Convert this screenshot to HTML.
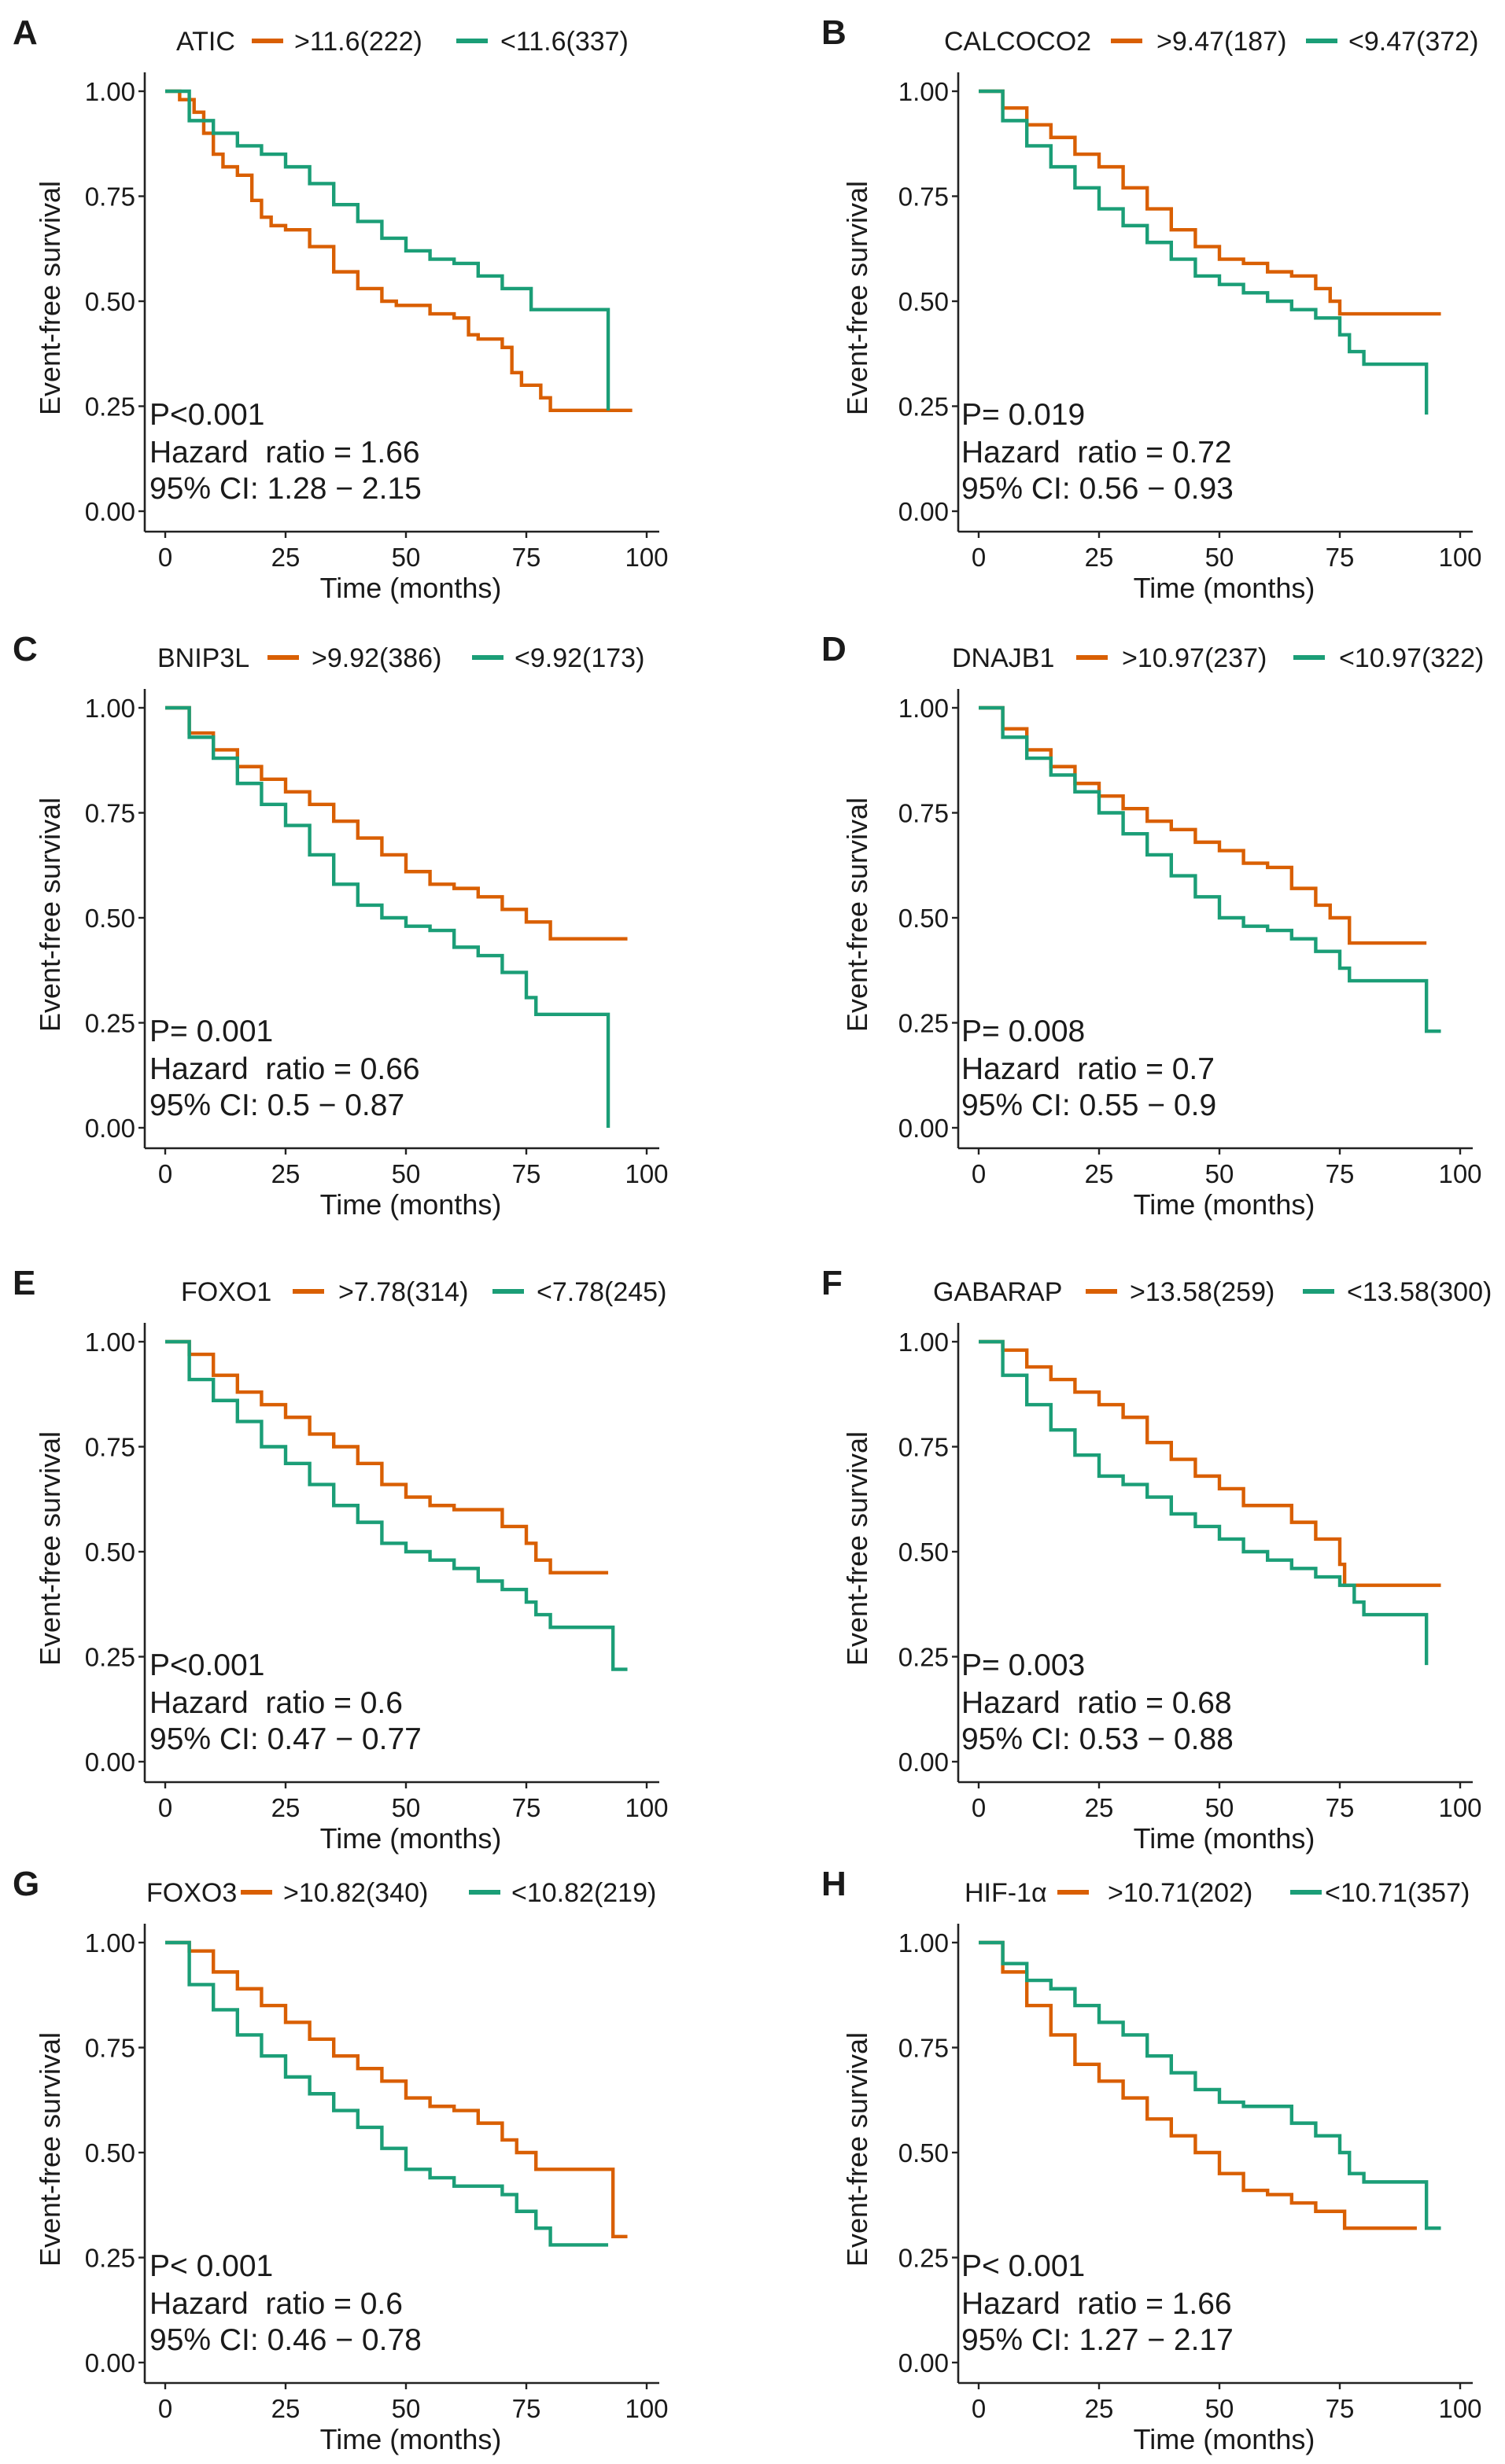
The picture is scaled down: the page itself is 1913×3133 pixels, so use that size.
<!DOCTYPE html>
<html><head><meta charset="utf-8"><style>
html,body{margin:0;padding:0;background:#fff}
svg{display:block}
text{font-family:"Liberation Sans",Arial,sans-serif;fill:#1a1a1a}
</style></head>
<body>
<svg id="fig" width="1913" height="3133" viewBox="0 0 956.5 1566.5" xmlns="http://www.w3.org/2000/svg"></svg>
<script>
const ORANGE="#D95F02", GREEN="#1B9E77";
const xTicks=[0,25,50,75,100];
const yTicks=[0,0.25,0.5,0.75,1];
const yTickLabels=["0.00","0.25","0.50","0.75","1.00"];
const panelLetters=["A","B","C","D","E","F","G","H"];
const genes=["ATIC","CALCOCO2","BNIP3L","DNAJB1","FOXO1","GABARAP","FOXO3","HIF-1α"];
const hiLabels=[">11.6(222)",">9.47(187)",">9.92(386)",">10.97(237)",">7.78(314)",">13.58(259)",">10.82(340)",">10.71(202)"];
const loLabels=["<11.6(337)","<9.47(372)","<9.92(173)","<10.97(322)","<7.78(245)","<13.58(300)","<10.82(219)","<10.71(357)"];
const pTexts=["P<0.001","P= 0.019","P= 0.001","P= 0.008","P<0.001","P= 0.003","P< 0.001","P< 0.001"];
const hrTexts=["Hazard  ratio = 1.66","Hazard  ratio = 0.72","Hazard  ratio = 0.66","Hazard  ratio = 0.7","Hazard  ratio = 0.6","Hazard  ratio = 0.68","Hazard  ratio = 0.6","Hazard  ratio = 1.66"];
const ciTexts=["95% CI: 1.28 − 2.15","95% CI: 0.56 − 0.93","95% CI: 0.5 − 0.87","95% CI: 0.55 − 0.9","95% CI: 0.47 − 0.77","95% CI: 0.53 − 0.88","95% CI: 0.46 − 0.78","95% CI: 1.27 − 2.17"];

const aTo=[0,3,6,8,10,12,15,18,20,22,25,30,35,40,45,48,55,60,63,65,70,72,74,76,78,80,97];
const aSo=[1,.98,.95,.9,.85,.82,.8,.74,.7,.68,.67,.63,.57,.53,.5,.49,.47,.46,.42,.41,.39,.33,.3,.3,.27,.24,.24];
const aTg=[0,5,10,15,20,25,30,35,40,45,50,55,60,65,70,72,76,92,92];
const aSg=[1,.93,.9,.87,.85,.82,.78,.73,.69,.65,.62,.6,.59,.56,.53,.53,.48,.48,.24];
const bTo=[0,5,10,15,20,25,30,35,40,45,50,55,60,65,70,73,75,96];
const bSo=[1,.96,.92,.89,.85,.82,.77,.72,.67,.63,.6,.59,.57,.56,.53,.5,.47,.47];
const bTg=[0,5,10,15,20,25,30,35,40,45,50,55,60,65,70,75,77,80,93,93];
const bSg=[1,.93,.87,.82,.77,.72,.68,.64,.6,.56,.54,.52,.5,.48,.46,.42,.38,.35,.35,.23];
const cTo=[0,5,10,15,20,25,30,35,40,45,50,55,60,65,70,75,80,96];
const cSo=[1,.94,.9,.86,.83,.8,.77,.73,.69,.65,.61,.58,.57,.55,.52,.49,.45,.45];
const cTg=[0,5,10,15,20,25,30,35,40,45,50,55,60,65,70,75,77,92,92];
const cSg=[1,.93,.88,.82,.77,.72,.65,.58,.53,.5,.48,.47,.43,.41,.37,.31,.27,.27,0];
const dTo=[0,5,10,15,20,25,30,35,40,45,50,55,60,65,70,73,77,93];
const dSo=[1,.95,.9,.86,.82,.79,.76,.73,.71,.68,.66,.63,.62,.57,.53,.5,.44,.44];
const dTg=[0,5,10,15,20,25,30,35,40,45,50,55,60,65,70,75,77,93,96];
const dSg=[1,.93,.88,.84,.8,.75,.7,.65,.6,.55,.5,.48,.47,.45,.42,.38,.35,.23,.23];
const eTo=[0,5,10,15,20,25,30,35,40,45,50,55,60,65,70,75,77,80,92];
const eSo=[1,.97,.92,.88,.85,.82,.78,.75,.71,.66,.63,.61,.6,.6,.56,.52,.48,.45,.45];
const eTg=[0,5,10,15,20,25,30,35,40,45,50,55,60,65,70,75,77,80,93,96];
const eSg=[1,.91,.86,.81,.75,.71,.66,.61,.57,.52,.5,.48,.46,.43,.41,.38,.35,.32,.22,.22];
const fTo=[0,5,10,15,20,25,30,35,40,45,50,55,60,65,70,75,76,96];
const fSo=[1,.98,.94,.91,.88,.85,.82,.76,.72,.68,.65,.61,.61,.57,.53,.47,.42,.42];
const fTg=[0,5,10,15,20,25,30,35,40,45,50,55,60,65,70,75,78,80,93,93];
const fSg=[1,.92,.85,.79,.73,.68,.66,.63,.59,.56,.53,.5,.48,.46,.44,.42,.38,.35,.35,.23];
const gTo=[0,5,10,15,20,25,30,35,40,45,50,55,60,65,70,73,77,93,96];
const gSo=[1,.98,.93,.89,.85,.81,.77,.73,.7,.67,.63,.61,.6,.57,.53,.5,.46,.3,.3];
const gTg=[0,5,10,15,20,25,30,35,40,45,50,55,60,65,70,73,77,80,92];
const gSg=[1,.9,.84,.78,.73,.68,.64,.6,.56,.51,.46,.44,.42,.42,.4,.36,.32,.28,.28];
const hTo=[0,5,10,15,20,25,30,35,40,45,50,55,60,65,70,76,91];
const hSo=[1,.93,.85,.78,.71,.67,.63,.58,.54,.5,.45,.41,.4,.38,.36,.32,.32];
const hTg=[0,5,10,15,20,25,30,35,40,45,50,55,60,65,70,75,77,80,93,96];
const hSg=[1,.95,.91,.89,.85,.81,.78,.73,.69,.65,.62,.61,.61,.57,.54,.5,.45,.43,.32,.32];

const orT=[aTo,bTo,cTo,dTo,eTo,fTo,gTo,hTo], orS=[aSo,bSo,cSo,dSo,eSo,fSo,gSo,hSo];
const grT=[aTg,bTg,cTg,dTg,eTg,fTg,gTg,hTg], grS=[aSg,bSg,cSg,dSg,eSg,fSg,gSg,hSg];

const svg=document.getElementById('fig');
const NS="http://www.w3.org/2000/svg";
function mk(tag,attrs,parent,txt){const e=document.createElementNS(NS,tag);for(const k in attrs)e.setAttribute(k,attrs[k]);if(txt!==undefined)e.textContent=txt;parent.appendChild(e);return e;}

const colX0=[105,622];
const rowY1=[58,450,853,1235];
const legendPos=[
 [112,160,187,290,318],[600,706,735,830,857],
 [100,170,198,300,327],[605,684,713,822,851],
 [115,186,215,313,341],[593,690,718,828,856],
 [93,153,180,298,325],[613,672,704,820,842]];

for(let i=0;i<8;i++){
  const col=i%2,row=Math.floor(i/2);
  const x0=colX0[col], y1=rowY1[row], y0=y1+267, w=306;
  const X=t=>x0+t/100*w, Y=s=>y0-s*(y0-y1);
  const g=mk('g',{},svg);
  
  
  const L=mk('text',{x:col?522:8,y:y1-30,'font-size':22,'font-weight':'bold'},g,panelLetters[i]);
  
  const lp=legendPos[i], ly=y1-32;
  const lg=mk('g',{},g);
  mk('text',{x:lp[0],y:ly+6,'font-size':17},lg,genes[i]);
  mk('line',{x1:lp[1],x2:lp[1]+20,y1:ly,y2:ly,stroke:ORANGE,'stroke-width':3},lg);
  mk('text',{x:lp[2],y:ly+6,'font-size':17},lg,hiLabels[i]);
  mk('line',{x1:lp[3],x2:lp[3]+20,y1:ly,y2:ly,stroke:GREEN,'stroke-width':3},lg);
  mk('text',{x:lp[4],y:ly+6,'font-size':17},lg,loLabels[i]);
  const ax=x0-13, ab=y0+13;
  const axl=mk('line',{x1:ax,x2:ax,y1:y1-12,y2:ab,stroke:'#222','stroke-width':1.3},g);
  
  const bxl=mk('line',{x1:ax,x2:X(100)+8,y1:ab,y2:ab,stroke:'#222','stroke-width':1.3},g);
  
  yTicks.forEach((v,k)=>{
    mk('line',{x1:ax-4,x2:ax,y1:Y(v),y2:Y(v),stroke:'#222','stroke-width':1.2},g);
    const t=mk('text',{x:ax-6,y:Y(v)+6,'font-size':16.5,'text-anchor':'end',fill:'#333'},g,yTickLabels[k]);
    
  });
  xTicks.forEach(v=>{
    mk('line',{x1:X(v),x2:X(v),y1:ab,y2:ab+4,stroke:'#222','stroke-width':1.2},g);
    const t=mk('text',{x:X(v),y:ab+22,'font-size':16.5,'text-anchor':'middle',fill:'#333'},g,String(v));
    
  });
  const xt=mk('text',{x:X(50)+3,y:ab+42,'font-size':18,'text-anchor':'middle'},g,'Time (months)');
  
  const yx=(col?551:38), yy=(y1+y0)/2-2;
  const yt=mk('text',{x:yx,y:yy,'font-size':18,'text-anchor':'middle',transform:`rotate(-90 ${yx} ${yy})`},g,'Event-free survival');
  
  [[orT[i],orS[i],ORANGE,'curve-high'],[grT[i],grS[i],GREEN,'curve-low']].forEach(([T,S,c,n])=>{
    let d=`M${X(T[0])},${Y(S[0])}`;
    for(let k=1;k<T.length;k++){d+=` H${X(T[k])} V${Y(S[k])}`;}
    const p=mk('path',{d,fill:'none',stroke:c,'stroke-width':2.2},g);
    
  });
  const axx=col?611:95;
  const a1=mk('text',{x:axx,y:y0-55,'font-size':19.5},g,pTexts[i]);
  
  const a2=mk('text',{x:axx,y:y0-31,'font-size':19.5,'xml:space':'preserve'},g,hrTexts[i]);
  
  a2.style.whiteSpace='pre';
  const a3=mk('text',{x:axx,y:y0-8,'font-size':19.5},g,ciTexts[i]);
  
}
</script>
</body></html>
